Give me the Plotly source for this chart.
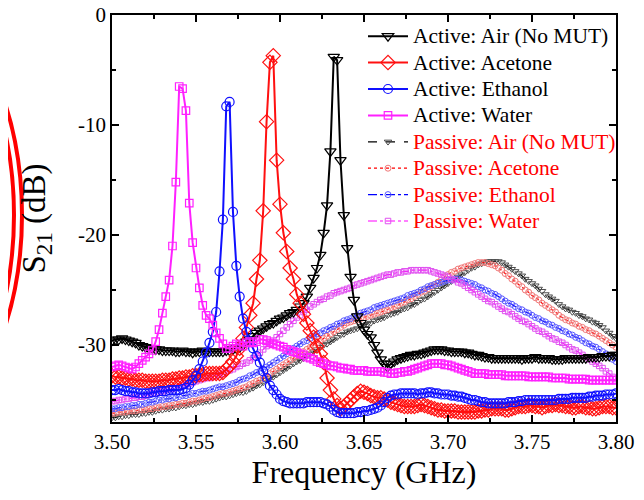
import plotly.graph_objects as go

freq = [round(3.5 + 0.002 * i, 3) for i in range(151)]

active_air = [
    -29.6, -29.5, -29.5, -29.4, -29.5, -29.6, -29.7, -29.8, -30.0, -30.1,
    -30.2, -30.3, -30.3, -30.4, -30.4, -30.5, -30.5, -30.5, -30.5, -30.6,
    -30.6, -30.5, -30.6, -30.6, -30.7, -30.6, -30.6, -30.5, -30.6, -30.6,
    -30.6, -30.6, -30.6, -30.6, -30.5, -30.5, -30.4, -30.3, -30.2, -30.0,
    -29.7, -29.5, -29.2, -28.9, -28.7, -28.5, -28.3, -28.1, -28.0, -27.8,
    -27.6, -27.5, -27.3, -27.1, -27.0, -26.8, -26.5, -26.2, -25.6, -24.8,
    -23.9, -23.0, -21.8, -19.8, -17.3, -12.4, -3.8, -4.1, -13.2, -18.2,
    -21.2, -23.8, -25.9, -27.4, -28.0, -28.6, -29.0, -29.3, -30.0, -30.7,
    -31.3, -31.7, -32.0, -31.7, -31.5, -31.3, -31.2, -31.1, -31.0, -30.9,
    -30.9, -30.8, -30.8, -30.7, -30.6, -30.5, -30.4, -30.4, -30.4, -30.5,
    -30.5, -30.6, -30.6, -30.6, -30.6, -30.7, -30.7, -30.8, -30.9, -30.9,
    -31.0, -31.1, -31.1, -31.2, -31.2, -31.2, -31.2, -31.2, -31.2, -31.2,
    -31.2, -31.2, -31.3, -31.2, -31.2, -31.2, -31.1, -31.2, -31.2, -31.2,
    -31.2, -31.3, -31.3, -31.3, -31.3, -31.2, -31.2, -31.2, -31.2, -31.2,
    -31.2, -31.2, -31.1, -31.1, -31.1, -31.1, -31.0, -31.0, -31.0, -30.9,
    -30.9,
]

active_acetone = [
    -32.8, -32.9, -32.9, -33.0, -33.0, -33.1, -33.1, -33.2, -33.2, -33.2,
    -33.3, -33.3, -33.3, -33.3, -33.3, -33.2, -33.2, -33.2, -33.1, -33.1,
    -33.0, -33.0, -32.9, -32.9, -32.8, -32.8, -32.7, -32.7, -32.6, -32.6,
    -32.6, -32.6, -32.6, -32.5, -32.2, -31.9, -31.5, -31.0, -30.3, -29.4,
    -28.4, -27.3, -26.2, -24.0, -22.3, -17.8, -9.7, -4.3, -3.7, -13.2,
    -17.2, -19.8, -21.5, -23.0, -24.0, -25.4, -26.2, -27.2, -28.0, -28.7,
    -29.3, -30.1, -30.8, -31.6, -33.0, -34.1, -34.9, -35.5, -35.8, -35.6,
    -35.3, -35.0, -34.7, -34.4, -34.2, -34.3, -34.4, -34.6, -34.7, -34.8,
    -34.8, -34.9, -35.0, -35.2, -35.3, -35.4, -35.5, -35.6, -35.6, -35.6,
    -35.6, -35.5, -35.4, -35.5, -35.6, -35.7, -35.8, -35.9, -35.9, -36.0,
    -36.0, -36.0, -36.0, -36.1, -36.1, -36.1, -36.1, -36.1, -36.1, -36.0,
    -36.0, -35.9, -35.9, -35.8, -35.8, -35.8, -35.8, -35.9, -35.9, -35.8,
    -35.7, -35.6, -35.6, -35.6, -35.5, -35.5, -35.6, -35.6, -35.7, -35.6,
    -35.5, -35.5, -35.4, -35.5, -35.5, -35.6, -35.6, -35.7, -35.7, -35.6,
    -35.6, -35.7, -35.7, -35.8, -35.8, -35.7, -35.6, -35.6, -35.6, -35.7,
    -35.7,
]

active_ethanol = [
    -34.1, -34.1, -34.0, -34.1, -34.2, -34.2, -34.3, -34.3, -34.4, -34.4,
    -34.4, -34.4, -34.3, -34.3, -34.2, -34.2, -34.2, -34.1, -34.1, -34.1,
    -34.1, -34.0, -33.9, -33.6, -33.2, -32.8, -32.2, -31.5, -30.7, -29.8,
    -28.8, -27.0, -23.3, -18.6, -8.3, -7.9, -17.9, -22.8, -25.6, -27.6,
    -28.8, -29.7, -30.3, -31.0, -31.6, -32.4, -33.0, -33.7, -34.1, -34.5,
    -34.9, -35.1, -35.2, -35.3, -35.3, -35.3, -35.3, -35.3, -35.2, -35.2,
    -35.2, -35.2, -35.2, -35.3, -35.4, -35.6, -35.9, -36.1, -36.2, -36.2,
    -36.2, -36.2, -36.2, -36.1, -36.1, -36.0, -36.0, -35.9, -35.8, -35.7,
    -35.5, -35.2, -34.8, -34.6, -34.5, -34.5, -34.4, -34.4, -34.4, -34.4,
    -34.4, -34.5, -34.4, -34.4, -34.3, -34.3, -34.4, -34.4, -34.5, -34.5,
    -34.5, -34.6, -34.6, -34.7, -34.7, -34.8, -34.9, -35.0, -35.0, -35.1,
    -35.2, -35.2, -35.3, -35.3, -35.3, -35.3, -35.3, -35.3, -35.2, -35.2,
    -35.2, -35.1, -35.1, -35.0, -35.0, -35.0, -35.0, -35.0, -35.0, -35.0,
    -35.0, -35.0, -35.0, -34.9, -34.9, -34.9, -34.9, -34.8, -34.8, -34.8,
    -34.8, -34.8, -34.7, -34.7, -34.6, -34.6, -34.6, -34.5, -34.5, -34.5,
    -34.4,
]

active_water = [
    -32.0, -31.9, -31.8, -31.9, -32.0, -32.1, -32.2, -32.0, -31.7, -31.4,
    -31.1, -30.8, -30.5, -29.7, -28.6, -27.1, -25.6, -24.1, -21.0, -15.2,
    -6.5, -6.7, -8.7, -17.1, -20.7, -23.0, -24.8, -26.4, -27.3, -27.6,
    -28.2, -28.9, -29.4, -29.9, -30.3, -30.3, -30.1, -29.9, -30.0, -30.1,
    -29.8, -29.7, -29.8, -29.7, -29.5, -29.5, -29.6, -29.8, -29.9, -30.0,
    -30.1, -30.2, -30.4, -30.5, -30.6, -30.7, -30.8, -30.9, -31.1, -31.2,
    -31.3, -31.5, -31.6, -31.7, -31.8, -31.9, -31.9, -32.0, -32.1, -32.1,
    -32.2, -32.2, -32.3, -32.3, -32.3, -32.3, -32.4, -32.4, -32.4, -32.4,
    -32.4, -32.5, -32.5, -32.6, -32.6, -32.5, -32.5, -32.4, -32.4, -32.3,
    -32.2, -32.1, -32.0, -31.9, -31.8, -31.7, -31.7, -31.7, -31.7, -31.8,
    -31.8, -31.9, -32.0, -32.1, -32.2, -32.3, -32.4, -32.5, -32.6, -32.6,
    -32.6, -32.6, -32.7, -32.7, -32.7, -32.7, -32.7, -32.8, -32.8, -32.8,
    -32.8, -32.8, -32.8, -32.8, -32.9, -32.9, -32.9, -32.9, -32.9, -32.9,
    -32.9, -33.0, -33.0, -33.0, -33.0, -33.0, -33.1, -33.1, -33.1, -33.1,
    -33.1, -33.1, -33.2, -33.2, -33.2, -33.2, -33.2, -33.2, -33.2, -33.2,
    -33.2,
]

passive_air = [
    -36.6, -36.6, -36.5, -36.5, -36.4, -36.4, -36.3, -36.3, -36.3, -36.2,
    -36.2, -36.1, -36.1, -36.0, -35.9, -35.9, -35.8, -35.8, -35.7, -35.7,
    -35.6, -35.5, -35.5, -35.4, -35.4, -35.3, -35.2, -35.2, -35.1, -35.1,
    -35.0, -34.9, -34.8, -34.7, -34.7, -34.6, -34.5, -34.4, -34.3, -34.3,
    -34.2, -34.0, -33.9, -33.7, -33.6, -33.4, -33.2, -33.0, -32.9, -32.7,
    -32.5, -32.3, -32.1, -31.9, -31.7, -31.5, -31.4, -31.2, -31.0, -30.8,
    -30.6, -30.4, -30.2, -30.0, -29.9, -29.7, -29.5, -29.3, -29.1, -29.0,
    -28.8, -28.7, -28.6, -28.5, -28.3, -28.2, -28.1, -28.0, -27.8, -27.7,
    -27.6, -27.5, -27.3, -27.2, -27.1, -27.0, -26.8, -26.7, -26.6, -26.4,
    -26.3, -26.1, -25.9, -25.8, -25.6, -25.4, -25.2, -25.0, -24.8, -24.6,
    -24.4, -24.2, -24.0, -23.8, -23.6, -23.4, -23.2, -23.0, -22.9, -22.7,
    -22.6, -22.5, -22.4, -22.4, -22.4, -22.4, -22.5, -22.7, -22.9, -23.1,
    -23.3, -23.5, -23.7, -24.0, -24.2, -24.4, -24.6, -24.9, -25.1, -25.4,
    -25.6, -25.8, -26.0, -26.3, -26.5, -26.7, -26.8, -27.0, -27.1, -27.3,
    -27.4, -27.6, -27.7, -27.9, -28.0, -28.2, -28.4, -28.7, -28.9, -29.2,
    -29.4,
]

passive_acetone = [
    -36.2, -36.2, -36.1, -36.1, -36.1, -36.0, -36.0, -36.0, -35.9, -35.9,
    -35.9, -35.8, -35.8, -35.7, -35.7, -35.6, -35.6, -35.5, -35.5, -35.4,
    -35.4, -35.3, -35.3, -35.2, -35.1, -35.1, -35.0, -34.9, -34.8, -34.8,
    -34.7, -34.6, -34.5, -34.4, -34.4, -34.3, -34.2, -34.1, -34.0, -33.9,
    -33.8, -33.6, -33.5, -33.3, -33.2, -33.0, -32.8, -32.6, -32.4, -32.2,
    -32.0, -31.8, -31.6, -31.4, -31.2, -31.0, -30.8, -30.6, -30.4, -30.2,
    -30.0, -29.8, -29.6, -29.4, -29.2, -29.0, -28.8, -28.6, -28.4, -28.2,
    -28.0, -27.9, -27.8, -27.7, -27.6, -27.5, -27.4, -27.3, -27.2, -27.1,
    -27.0, -26.9, -26.8, -26.6, -26.5, -26.4, -26.2, -26.1, -25.9, -25.8,
    -25.6, -25.4, -25.2, -25.1, -24.9, -24.7, -24.5, -24.3, -24.1, -23.8,
    -23.6, -23.4, -23.3, -23.1, -23.0, -22.9, -22.8, -22.7, -22.6, -22.5,
    -22.5, -22.5, -22.6, -22.7, -22.8, -23.0, -23.2, -23.5, -23.7, -24.0,
    -24.2, -24.5, -24.7, -25.0, -25.2, -25.5, -25.7, -25.9, -26.2, -26.4,
    -26.6, -26.8, -27.0, -27.3, -27.5, -27.7, -27.8, -28.0, -28.1, -28.3,
    -28.4, -28.6, -28.7, -28.9, -29.0, -29.2, -29.4, -29.6, -29.8, -30.0,
    -30.2,
]

passive_ethanol = [
    -35.8, -35.8, -35.7, -35.7, -35.6, -35.6, -35.5, -35.5, -35.4, -35.4,
    -35.3, -35.2, -35.2, -35.1, -35.0, -35.0, -34.9, -34.9, -34.8, -34.8,
    -34.7, -34.6, -34.6, -34.5, -34.4, -34.4, -34.3, -34.2, -34.2, -34.1,
    -34.0, -33.9, -33.8, -33.8, -33.7, -33.6, -33.5, -33.4, -33.2, -33.1,
    -33.0, -32.8, -32.7, -32.5, -32.4, -32.2, -32.0, -31.8, -31.6, -31.4,
    -31.2, -31.0, -30.8, -30.5, -30.3, -30.1, -29.9, -29.7, -29.6, -29.4,
    -29.2, -29.0, -28.9, -28.7, -28.6, -28.4, -28.3, -28.1, -28.0, -27.8,
    -27.7, -27.6, -27.4, -27.3, -27.1, -27.0, -26.9, -26.8, -26.6, -26.5,
    -26.4, -26.3, -26.2, -26.1, -26.0, -25.9, -25.8, -25.7, -25.5, -25.4,
    -25.3, -25.2, -25.0, -24.9, -24.7, -24.6, -24.5, -24.4, -24.3, -24.2,
    -24.1, -24.1, -24.0, -24.0, -24.1, -24.2, -24.3, -24.4, -24.5, -24.7,
    -24.8, -25.0, -25.1, -25.3, -25.4, -25.6, -25.8, -26.0, -26.2, -26.3,
    -26.5, -26.7, -26.8, -27.0, -27.1, -27.3, -27.5, -27.6, -27.8, -27.9,
    -28.1, -28.2, -28.4, -28.5, -28.7, -28.8, -29.0, -29.1, -29.3, -29.4,
    -29.6, -29.8, -29.9, -30.1, -30.2, -30.4, -30.6, -30.8, -31.0, -31.3,
    -31.5,
]

passive_water = [
    -35.1, -35.1, -35.0, -35.0, -34.9, -34.9, -34.8, -34.8, -34.7, -34.7,
    -34.6, -34.5, -34.4, -34.4, -34.3, -34.2, -34.1, -34.0, -34.0, -33.9,
    -33.8, -33.7, -33.6, -33.5, -33.4, -33.3, -33.2, -33.1, -33.0, -33.0,
    -32.9, -32.8, -32.7, -32.6, -32.4, -32.3, -32.2, -32.0, -31.9, -31.7,
    -31.6, -31.4, -31.2, -30.9, -30.7, -30.4, -30.1, -29.8, -29.6, -29.3,
    -29.0, -28.7, -28.4, -28.1, -27.8, -27.5, -27.3, -27.0, -26.8, -26.5,
    -26.3, -26.1, -25.9, -25.8, -25.6, -25.5, -25.3, -25.2, -25.1, -25.0,
    -24.9, -24.8, -24.6, -24.5, -24.4, -24.3, -24.2, -24.1, -24.0, -23.9,
    -23.8, -23.7, -23.6, -23.6, -23.5, -23.4, -23.4, -23.3, -23.3, -23.2,
    -23.2, -23.2, -23.2, -23.2, -23.2, -23.3, -23.4, -23.5, -23.6, -23.7,
    -23.8, -24.0, -24.1, -24.3, -24.4, -24.6, -24.8, -25.0, -25.2, -25.4,
    -25.6, -25.8, -26.0, -26.1, -26.3, -26.5, -26.7, -26.9, -27.0, -27.2,
    -27.4, -27.6, -27.8, -27.9, -28.1, -28.3, -28.5, -28.7, -28.8, -29.0,
    -29.2, -29.4, -29.5, -29.7, -29.8, -30.0, -30.2, -30.4, -30.5, -30.7,
    -30.9, -31.1, -31.3, -31.5, -31.7, -31.9, -32.1, -32.4, -32.6, -32.9,
    -33.1,
]

x_tick_vals = [3.50, 3.55, 3.60, 3.65, 3.70, 3.75, 3.80]
x_tick_labels = ["3.50", "3.55", "3.60", "3.65", "3.70", "3.75", "3.80"]
y_tick_vals = [0, -10, -20, -30]
y_tick_labels = ["0", "-10", "-20", "-30"]

FONT = "Times New Roman"
RED_TXT = "#ff0000"

fig = go.Figure()

passive = [
    ("Passive: Air (No MUT)", passive_air, "#4a4a4a", "#000000", "triangle-down-open", 6.5, "dash"),
    ("Passive: Acetone", passive_acetone, "#f07878", "#ff0000", "circle-open", 6, "dot"),
    ("Passive: Ethanol", passive_ethanol, "#5a5aff", "#0000ff", "circle-open", 6, "dashdot"),
    ("Passive: Water", passive_water, "#e050f0", "#ff00ff", "square-open", 5.5, "dashdot"),
]
active = [
    ("Active: Air (No MUT)", active_air, "#000000", "triangle-down-open", 10, 1),
    ("Active: Acetone", active_acetone, "#ff1010", "diamond-open", 11, 2),
    ("Active: Ethanol", active_ethanol, "#1010ff", "circle-open", 9, 3),
    ("Active: Water", active_water, "#ff20ff", "square-open", 7.5, 4),
]

for k, (name, vals, mcol, lcol, sym, size, dash) in enumerate(passive):
    fig.add_trace(go.Scatter(
        x=freq, y=vals, mode="lines+markers",
        name=f'<span style="color:{RED_TXT};font-size:21.5px">{name}</span>',
        line=dict(color=lcol, width=1.2, dash=dash),
        marker=dict(symbol=sym, size=size, color=mcol, line=dict(color=mcol, width=1)),
        legendrank=5 + k,
    ))

for name, vals, col, sym, size, rank in active:
    fig.add_trace(go.Scatter(
        x=freq, y=vals, mode="lines+markers",
        name=f'<span style="font-size:21.5px">{name}</span>',
        line=dict(color=col, width=2),
        marker=dict(symbol=sym, size=size, color=col, line=dict(color=col, width=1.2)),
        legendrank=rank,
    ))

# the page adds an 8px body margin, so place the plot area 8px up/left
OFF = 8
L, R, T, B = 112 - OFF, 616 - OFF, 15 - OFF, 422 - OFF
def px(xp):
    return (xp - OFF - L) / (R - L)
def py(yp):
    return (B - (yp - OFF)) / (B - T)

# decorative red ellipse edges at the far left (from the neighbouring panel)
shapes = []
for apex in [22, 14, 6]:
    shapes.append(dict(type="circle", xref="paper", yref="paper",
                       x0=px(apex - 200), x1=px(apex), y0=py(415), y1=py(15),
                       line=dict(color="#ff0000", width=4)))

fig.update_layout(
    width=644, height=500,
    margin=dict(l=L, r=644 - R, t=T, b=500 - B, autoexpand=False),
    paper_bgcolor="white", plot_bgcolor="white",
    font=dict(family=FONT, color="black", size=21),
    showlegend=True,
    legend=dict(x=px(363), y=py(18), xanchor="left", yanchor="top",
                bgcolor="rgba(0,0,0,0)", font=dict(family=FONT, size=18, color="black"),
                tracegroupgap=0, itemwidth=40),
    shapes=shapes,
)

fig.update_xaxes(
    range=[3.5, 3.8], tickvals=x_tick_vals, ticktext=x_tick_labels,
    ticks="inside", ticklen=7, tickwidth=1.5, tickcolor="black",
    minor=dict(dtick=0.025, tick0=3.5, ticks="inside", ticklen=4, tickwidth=1.5, tickcolor="black"),
    showline=True, linecolor="black", linewidth=1.5, mirror="ticks",
    showgrid=False, zeroline=False, tickfont=dict(family=FONT, size=21),
    automargin=False, ticklabeloverflow="allow",
    title=dict(text="Frequency (GHz)", font=dict(family=FONT, size=32), standoff=3),
)
fig.update_yaxes(
    range=[-37, 0], tickvals=y_tick_vals, ticktext=y_tick_labels,
    ticks="inside", ticklen=7, tickwidth=1.5, tickcolor="black",
    minor=dict(dtick=5, tick0=0, ticks="inside", ticklen=4, tickwidth=1.5, tickcolor="black"),
    showline=True, linecolor="black", linewidth=1.5, mirror="ticks",
    showgrid=False, zeroline=False, tickfont=dict(family=FONT, size=21),
    automargin=False, ticklabeloverflow="allow",
    title=dict(text="S<sub>21</sub> (dB)", font=dict(family=FONT, size=33), standoff=22),
)

fig.write_html("out.html")
